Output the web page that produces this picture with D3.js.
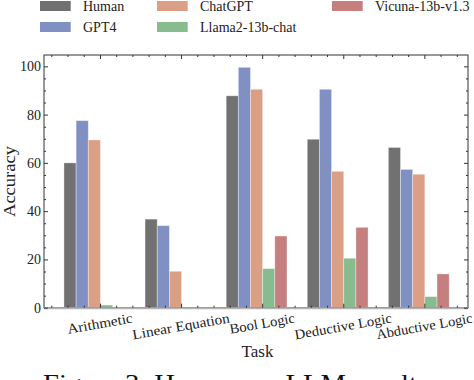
<!DOCTYPE html>
<html>
<head>
<meta charset="utf-8">
<script src="https://cdn.jsdelivr.net/npm/d3@7"></script>
<style>
  body { margin: 0; background: white; }
  svg { font-family: "Liberation Serif", serif; }
</style>
</head>
<body>
<script>
var width = 474,
    height = 380;

var tasks = ["Arithmetic", "Linear Equation", "Bool Logic", "Deductive Logic", "Abductive Logic"];
var models = ["Human", "GPT4", "ChatGPT", "Llama2-13b-chat", "Vicuna-13b-v1.3"];
var colors = ["#717171", "#8090c2", "#db9f85", "#88bb8e", "#c47f7e"];

var human   = [60, 36.7, 87.8, 69.8, 66.4];
var gpt4    = [77.5, 34, 99.6, 90.5, 57.3];
var chatgpt = [69.5, 15.1, 90.5, 56.5, 55.3];
var llama   = [1.1, 0, 16.2, 20.5, 4.6];
var vicuna  = [0, 0, 29.7, 33.3, 14];
var series = [human, gpt4, chatgpt, llama, vicuna];

var yTicks = [0, 20, 40, 60, 80, 100];

var pLeft = 44, pRight = 468, pTop = 55, pBottom = 307.7;

var svg = d3.select("body").append("svg")
    .attr("width", width)
    .attr("height", height);

var x = d3.scaleLinear().domain([-0.69, 4.538]).range([pLeft, pRight]);
var y = d3.scaleLinear().domain([0, 104.7]).range([pBottom, pTop]);

var barW = 0.15, groupStart = -0.444;

// bars
var cells = [];
series.forEach(function(s, j) {
  s.forEach(function(v, i) { cells.push({i: i, j: j, v: v}); });
});

svg.append("g").selectAll("rect").data(cells).enter()
  .append("rect")
    .attr("x", function(d) { return x(d.i + groupStart + d.j * barW); })
    .attr("width", function(d) { return x(barW) - x(0); })
    .attr("y", function(d) { return y(d.v); })
    .attr("height", function(d) { return y(0) - y(d.v); })
    .attr("fill", function(d) { return colors[d.j]; })
    .attr("stroke", "white")
    .attr("stroke-opacity", 0.45)
    .attr("stroke-width", 0.8);

// frame
svg.append("rect")
  .attr("x", pLeft).attr("y", pTop)
  .attr("width", pRight - pLeft).attr("height", pBottom - pTop)
  .attr("fill", "none")
  .attr("stroke", "#333")
  .attr("stroke-width", 1);

svg.append("line") //grey bottom spine
  .attr("x1", pLeft).attr("x2", pRight)
  .attr("y1", pBottom + 0.5).attr("y2", pBottom + 0.5)
  .style("stroke", "#b4b4b4")
  .style("stroke-width", 2);

// y axes, ticks inward
var yMinor = d3.range(5, 105, 5).filter(function(v) { return v % 20; });

function yAxis(g, vals, size, fmt) {
  g.call(d3.axisLeft(y).tickValues(vals).tickSize(-size).tickPadding(3).tickFormat(fmt));
  g.select(".domain").remove();
  g.selectAll("line").attr("stroke", "#333");
  g.selectAll("text").attr("font-size", 14).attr("font-family", "Liberation Serif").attr("fill", "#222");
}
svg.append("g").attr("transform", "translate(" + pLeft + ",0)")
  .call(yAxis, yTicks, 4, d3.format("d"));
svg.append("g").attr("transform", "translate(" + pLeft + ",0)")
  .call(yAxis, yMinor, 2, "");

function yAxisR(g, vals, size) {
  g.call(d3.axisRight(y).tickValues(vals).tickSize(-size).tickFormat(""));
  g.select(".domain").remove();
  g.selectAll("line").attr("stroke", "#333");
}
svg.append("g").attr("transform", "translate(" + pRight + ",0)").call(yAxisR, yTicks, 4);
svg.append("g").attr("transform", "translate(" + pRight + ",0)").call(yAxisR, yMinor, 2);

// x axes, ticks inward, top and bottom
var xMajor = d3.range(0, tasks.length);
var xMinor = d3.range(-0.6, 4.5, 0.2).filter(function(v) { return Math.abs(v - Math.round(v)) > 0.01; });

function xAxis(g, axis, vals, size) {
  g.call(axis(x).tickValues(vals).tickSize(-size).tickFormat(""));
  g.select(".domain").remove();
  g.selectAll("line").attr("stroke", "#333");
}
svg.append("g").attr("transform", "translate(0," + pBottom + ")").call(xAxis, d3.axisBottom, xMajor, 4);
svg.append("g").attr("transform", "translate(0," + pBottom + ")").call(xAxis, d3.axisBottom, xMinor, 2);
svg.append("g").attr("transform", "translate(0," + pTop + ")").call(xAxis, d3.axisTop, xMajor, 4);
svg.append("g").attr("transform", "translate(0," + pTop + ")").call(xAxis, d3.axisTop, xMinor, 2);

// rotated task labels
var labelLen = [65, 97, 65, 97, 96];
svg.append("g").selectAll("text").data(tasks).enter()
  .append("text")
    .attr("transform", function(d, i) {
      var h = labelLen[i] * 0.174 + 14;
      return "translate(" + x(i) + "," + (311 + h / 2) + ") rotate(-10)";
    })
    .attr("text-anchor", "middle")
    .attr("dominant-baseline", "central")
    .attr("font-size", 14)
    .attr("fill", "#222")
    .attr("textLength", function(d, i) { return labelLen[i] * 1.015; })
    .attr("lengthAdjust", "spacingAndGlyphs")
    .text(function(d) { return d; });

// axis titles
svg.append("text")
  .attr("x", 257.5).attr("y", 357)
  .attr("text-anchor", "middle")
  .attr("font-size", 17)
  .attr("fill", "#222")
  .text("Task");

svg.append("text")
  .attr("transform", "translate(15,181.5) rotate(-90)")
  .attr("text-anchor", "middle")
  .attr("font-size", 17)
  .attr("fill", "#222")
  .attr("textLength", 71)
  .attr("lengthAdjust", "spacingAndGlyphs")
  .text("Accuracy");

// legend, 3 columns
var legX = [40, 157, 332], legY = [1, 22];
var legend = svg.append("g").selectAll("g").data(models).enter()
  .append("g")
    .attr("transform", function(d, i) {
      return "translate(" + legX[Math.floor(i / 2)] + "," + legY[i % 2] + ")";
    });
legend.append("rect")
  .attr("width", 30.7).attr("height", 10)
  .attr("fill", function(d, i) { return colors[i]; });
legend.append("text")
  .attr("x", 43).attr("y", 5)
  .attr("dominant-baseline", "central")
  .attr("font-size", 14)
  .attr("fill", "#222")
  .text(function(d) { return d; });

// caption, cut by the picture edge
svg.append("text")
  .attr("x", 43).attr("y", 392)
  .attr("font-size", 26)
  .attr("fill", "#111")
  .attr("textLength", 385)
  .attr("lengthAdjust", "spacingAndGlyphs")
  .text("Figure 3: Human vs. LLM results");
</script>
</body>
</html>
